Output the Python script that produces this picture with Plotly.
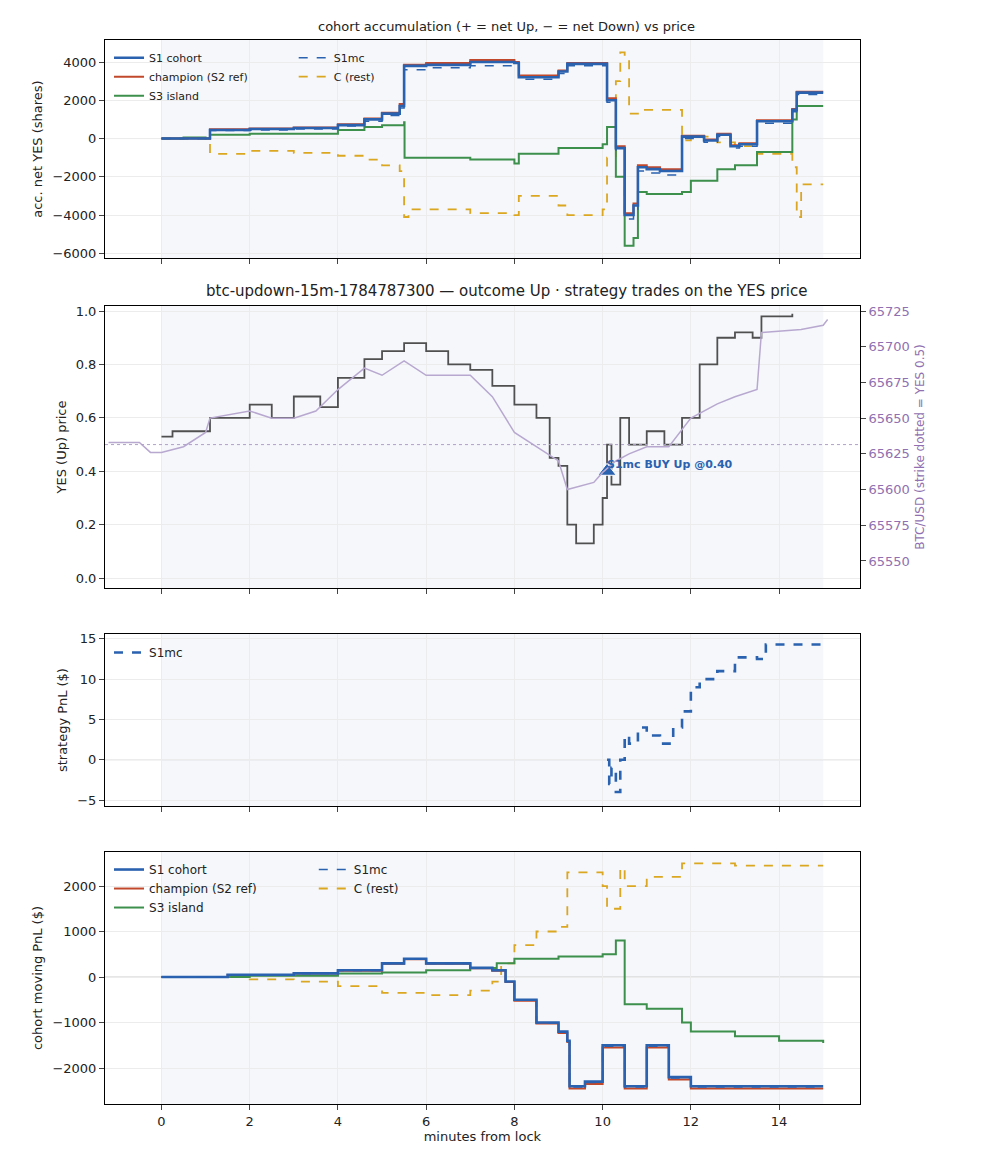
import plotly.graph_objects as go
from plotly.subplots import make_subplots

# ---------------- data ----------------
acc_t_s1 = [0, 1.1, 2, 3, 4, 4.6, 5, 5.4, 5.5, 6, 7, 8, 8.1, 9, 9.2, 10, 10.1, 10.3, 10.5, 10.7, 10.8, 11, 11.3, 11.8, 12.3, 12.6, 12.9, 13.1, 13.5, 14.3, 14.4, 15]
acc_s1 = [0, 450, 500, 550, 700, 1000, 1300, 1700, 3800, 3850, 4000, 3950, 3200, 3500, 3900, 3900, 2000, -500, -4000, -3500, -1500, -1600, -1700, 100, -100, 200, -400, -300, 900, 1500, 2400, 2400]
acc_champ = [0, 480, 520, 580, 750, 1050, 1350, 1800, 3850, 3950, 4100, 4000, 3300, 3550, 3950, 3950, 2100, -400, -3900, -3400, -1400, -1500, -1600, 150, -50, 250, -350, -250, 950, 1550, 2450, 2450]
acc_s1mc = [0, 420, 450, 500, 650, 900, 1200, 1600, 3600, 3700, 3800, 3750, 3100, 3400, 3800, 3800, 1900, -600, -4200, -3700, -1700, -1800, -1900, 0, -200, 100, -500, -400, 800, 1400, 2300, 2300]
acc_t_s3 = [0, 0.5, 1, 1.1, 2, 3, 4, 4.6, 5, 5.5, 5.51, 7, 8, 8.1, 9, 10, 10.1, 10.3, 10.5, 10.7, 10.8, 11, 11.8, 12, 12.6, 13, 13.5, 14.3, 14.4, 15]
acc_s3 = [0, 50, 0, 200, 250, 250, 450, 600, 700, 850, -1000, -1100, -1300, -800, -500, -300, 600, -2000, -5600, -5200, -2800, -2900, -2800, -2200, -1600, -1400, -700, 1000, 1700, 1700]
acc_t_c = [0, 1.1, 2, 3, 4, 4.6, 5, 5.4, 5.5, 5.6, 7, 8, 8.1, 9, 9.2, 10, 10.1, 10.3, 10.4, 10.5, 10.6, 10.8, 11, 11.8, 12, 12.6, 13, 13.5, 14.3, 14.4, 14.5, 15]
acc_c = [0, -800, -650, -750, -900, -1100, -1400, -1700, -4100, -3700, -3900, -4000, -3000, -3500, -4000, -3700, -1000, 3000, 4500, 4200, 1300, 1500, 1500, -100, 100, -200, -400, -800, -1500, -4100, -2400, -2400]

yes_t = [0, 0.25, 1, 1.1, 2, 2.5, 3, 3.6, 4, 4.6, 5, 5.5, 6, 6.5, 7, 7.5, 8, 8.5, 8.8, 9, 9.2, 9.4, 9.8, 10, 10.1, 10.2, 10.4, 10.6, 11, 11.4, 11.8, 12.2, 12.6, 13, 13.4, 13.6, 14.3]
yes_p = [0.53, 0.55, 0.55, 0.6, 0.65, 0.6, 0.68, 0.64, 0.75, 0.82, 0.85, 0.88, 0.85, 0.8, 0.78, 0.72, 0.65, 0.6, 0.45, 0.42, 0.2, 0.13, 0.2, 0.3, 0.5, 0.35, 0.6, 0.5, 0.55, 0.5, 0.6, 0.8, 0.9, 0.92, 0.9, 0.98, 0.99]
btc_t = [-1.2, -0.5, -0.25, 0, 0.5, 1, 1.1, 2, 2.5, 3, 3.5, 4, 4.6, 5, 5.5, 6, 7, 7.5, 8, 8.5, 9, 9.2, 9.8, 10, 10.3, 10.6, 11, 11.5, 12, 12.6, 13, 13.5, 13.6, 14.5, 15, 15.1]
btc_p = [65633, 65633, 65626, 65626, 65630, 65640, 65650, 65655, 65650, 65650, 65655, 65670, 65685, 65680, 65690, 65680, 65680, 65665, 65640, 65630, 65620, 65600, 65605, 65612, 65620, 65625, 65630, 65630, 65650, 65660, 65665, 65670, 65710, 65712, 65715, 65719]
buy_t = [10.1]
buy_p = [0.40]

pnl_t = [10.1, 10.15, 10.2, 10.3, 10.4, 10.5, 10.6, 10.8, 11, 11.3, 11.6, 11.8, 12, 12.2, 12.6, 13, 13.5, 13.7, 15]
pnl_v = [0, -3, -1, -4, 0, 3, 2, 4, 3, 2, 4, 6, 9, 10, 11, 12.7, 12.5, 14.3, 14.3]

mv_t = [0, 1.5, 3, 4, 5, 5.5, 6, 7, 7.5, 7.8, 8, 8.5, 9, 9.2, 9.25, 9.6, 10, 10.5, 11, 11.5, 12, 13, 15]
mv_s1 = [0, 50, 80, 150, 300, 400, 300, 200, 150, -100, -500, -1000, -1200, -1400, -2400, -2300, -1500, -2400, -1500, -2200, -2400, -2400, -2400]
mv_champ = [0, 45, 75, 140, 290, 390, 290, 190, 140, -110, -520, -1020, -1230, -1430, -2450, -2350, -1550, -2450, -1550, -2250, -2450, -2450, -2450]
mv_s1mc = [0, 48, 78, 145, 295, 395, 295, 195, 145, -105, -510, -1010, -1210, -1410, -2420, -2320, -1520, -2420, -1520, -2220, -2420, -2420, -2420]
mv_t_s3 = [0, 2, 4, 5, 6, 7, 7.6, 8, 9, 10, 10.3, 10.5, 11, 11.8, 12, 13, 14, 15]
mv_s3 = [0, 30, 80, 100, 150, 200, 300, 400, 450, 500, 800, -600, -700, -1000, -1200, -1300, -1400, -1450]
mv_t_c = [0, 2, 3, 4, 5, 6, 7, 7.5, 7.7, 8, 8.5, 9, 9.2, 10, 10.1, 10.4, 10.5, 11, 11.8, 13, 15]
mv_c = [0, -50, -100, -200, -350, -400, -300, -100, 300, 700, 1000, 1100, 2300, 2000, 1500, 2400, 2000, 2200, 2500, 2450, 2450]

BLUE, RED, GREEN, GOLD = "#2a62b0", "#c2482b", "#3d8f4c", "#dba620"
GRAY, PURP, PURPT = "#505050", "#b8a8d0", "#9070b0"

fig = make_subplots(rows=4, cols=1, shared_xaxes=True,
                    specs=[[{}], [{"secondary_y": True}], [{}], [{}]])

def cohort(t1, y1, t3, y3, tc, yc, ts1, ys1, ych, ymc, row, legA, legB):
    fig.add_trace(go.Scatter(x=tc, y=yc, mode="lines", name="C (rest)", line=dict(color=GOLD, width=1.8, dash="dash", shape="hv"), legend=legB, legendrank=2), row=row, col=1)
    fig.add_trace(go.Scatter(x=t3, y=y3, mode="lines", name="S3 island", line=dict(color=GREEN, width=2, shape="hv"), legend=legA, legendrank=3), row=row, col=1)
    fig.add_trace(go.Scatter(x=ts1, y=ych, mode="lines", name="champion (S2 ref)", line=dict(color=RED, width=2, shape="hv"), legend=legA, legendrank=2), row=row, col=1)
    fig.add_trace(go.Scatter(x=ts1, y=ys1, mode="lines", name="S1 cohort", line=dict(color=BLUE, width=2.6, shape="hv"), legend=legA, legendrank=1), row=row, col=1)
    fig.add_trace(go.Scatter(x=ts1, y=ymc, mode="lines", name="S1mc", line=dict(color=BLUE, width=1.5, dash="dash", shape="hv"), legend=legB, legendrank=1), row=row, col=1)

cohort(acc_t_s1, acc_s1, acc_t_s3, acc_s3, acc_t_c, acc_c, acc_t_s1, acc_s1, acc_champ, acc_s1mc, 1, "legend", "legend4")

fig.add_trace(go.Scatter(x=btc_t, y=btc_p, mode="lines", line=dict(color=PURP, width=1.5), showlegend=False), row=2, col=1, secondary_y=True)
fig.add_trace(go.Scatter(x=yes_t, y=yes_p, mode="lines", line=dict(color=GRAY, width=1.8, shape="hv"), showlegend=False), row=2, col=1)
fig.add_trace(go.Scatter(x=buy_t, y=buy_p, mode="markers", marker=dict(symbol="triangle-up", size=16, color=BLUE, line=dict(color="white", width=1)), showlegend=False), row=2, col=1)

fig.add_trace(go.Scatter(x=pnl_t, y=pnl_v, mode="lines", name="S1mc", line=dict(color=BLUE, width=2.6, dash="dash", shape="hv"), legend="legend2"), row=3, col=1)

cohort(mv_t, mv_s1, mv_t_s3, mv_s3, mv_t_c, mv_c, mv_t, mv_s1, mv_champ, mv_s1mc, 4, "legend3", "legend5")

doms = [[0.795, 1.0], [0.485, 0.75], [0.28, 0.4417], [0.0, 0.2368]]
font = dict(family="DejaVu Sans", size=13, color="#222")
fig.update_layout(width=993, height=1156, margin=dict(l=97, r=93, t=32, b=60, autoexpand=False),
                  plot_bgcolor="white", paper_bgcolor="white", font=font)
ax_common = dict(showline=True, mirror=True, linecolor="black", linewidth=1, ticks="outside",
                 gridcolor="#ececec", zeroline=False, tickfont=dict(size=13), automargin=False)
tf = dict(size=13)
fig.update_layout(
    yaxis=dict(domain=doms[0], range=[-6250, 5150], tickvals=[-6000, -4000, -2000, 0, 2000, 4000],
               title=dict(text="acc. net YES (shares)", standoff=6, font=tf), **ax_common),
    yaxis2=dict(domain=doms[1], range=[-0.037, 1.019], tickvals=[0, 0.2, 0.4, 0.6, 0.8, 1.0], ticktext=["0.0", "0.2", "0.4", "0.6", "0.8", "1.0"],
                title=dict(text="YES (Up) price", standoff=6, font=tf), **ax_common),
    yaxis3=dict(domain=doms[1], range=[65531.1, 65728.5], overlaying="y2", side="right", showgrid=False, automargin=False,
                tickvals=[65550, 65575, 65600, 65625, 65650, 65675, 65700, 65725], ticks="outside",
                tickfont=dict(color=PURPT, size=13), tickformat="d",
                title=dict(text="BTC/USD (strike dotted = YES 0.5)", font=dict(color=PURPT, size=12), standoff=6)),
    yaxis4=dict(domain=doms[2], range=[-5.75, 15.6], tickvals=[-5, 0, 5, 10, 15],
                title=dict(text="strategy PnL ($)", standoff=6, font=tf), **ax_common),
    yaxis5=dict(domain=doms[3], range=[-2791, 2747], tickvals=[-2000, -1000, 0, 1000, 2000],
                title=dict(text="cohort moving PnL ($)", standoff=6, font=tf), **ax_common),
)
for xa in ["xaxis", "xaxis2", "xaxis3", "xaxis4"]:
    fig.layout[xa].update(range=[-1.28, 15.83], tickvals=[0, 2, 4, 6, 8, 10, 12, 14], **ax_common)
fig.layout.xaxis4.title = dict(text="minutes from lock", standoff=4, font=tf)

for i, yref in enumerate(["y", "y2", "y4", "y5"]):
    xr = "x" if i == 0 else f"x{i+1}"
    fig.add_shape(type="rect", xref=xr, yref=f"{yref} domain", x0=0, x1=15, y0=0, y1=1,
                  fillcolor="#eef1f8", opacity=0.6, line_width=0, layer="below")
    if yref != "y2":
        fig.add_shape(type="line", xref=f"{xr} domain", yref=yref, x0=0, x1=1, y0=0, y1=0,
                      line=dict(color="#cccccc", width=1), layer="below")
fig.add_shape(type="line", xref="x2 domain", yref="y2", x0=0, x1=1, y0=0.5, y1=0.5,
              line=dict(color="#b0a0c8", width=1, dash="dot"))

fig.add_annotation(text="<b>S1mc BUY Up @0.40</b>", x=10.1, y=0.40, xref="x2", yref="y2", xanchor="left", yanchor="bottom",
                   xshift=-2, yshift=-2, showarrow=False, font=dict(color=BLUE, size=11, family="DejaVu Sans"))
fig.add_annotation(text="cohort accumulation (+ = net Up, − = net Down) vs price", x=0.5, y=1.0, xref="paper", yref="paper",
                   yanchor="bottom", yshift=4, showarrow=False, font=dict(size=13))
fig.add_annotation(text="btc-updown-15m-1784787300 — outcome Up · strategy trades on the YES price", x=0.5, y=0.75, xref="paper", yref="paper",
                   yanchor="bottom", yshift=4, showarrow=False, font=dict(size=15))

leg = dict(bgcolor="rgba(255,255,255,0)", tracegroupgap=0, itemwidth=30, xanchor="left", yanchor="top")
fig.update_layout(
    legend=dict(x=0.005, y=0.997, font=dict(size=11), **leg),
    legend4=dict(x=0.235, y=0.997, font=dict(size=11), **leg),
    legend2=dict(x=0.005, y=0.438, font=dict(size=12), **leg),
    legend3=dict(x=0.005, y=0.234, font=dict(size=12), **leg),
    legend5=dict(x=0.26, y=0.234, font=dict(size=12), **leg),
)
fig.write_html("out.html")
